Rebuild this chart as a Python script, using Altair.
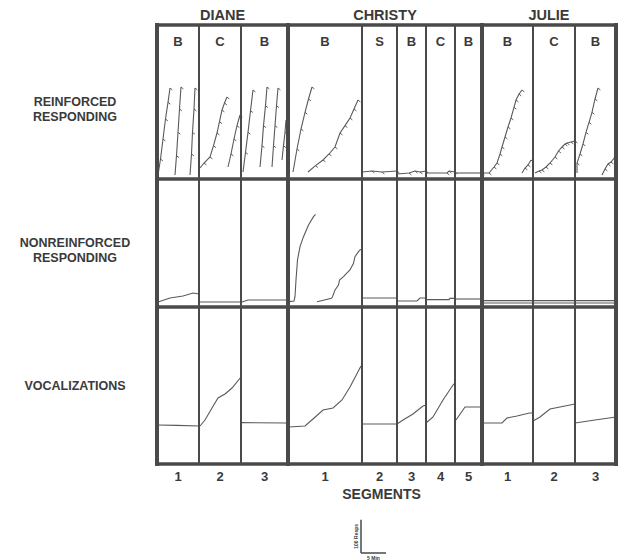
import altair as alt
import pandas as pd

# ------------------------------------------------------------------ data
SUBJECTS = ["DIANE", "CHRISTY", "JULIE"]
CONDITIONS = {
    "DIANE": ["B", "C", "B"],
    "CHRISTY": ["B", "S", "B", "C", "B"],
    "JULIE": ["B", "C", "B"],
}
SEGMENT_MINUTES = {
    "DIANE": [8.4, 8.4, 9.4],
    "CHRISTY": [14.8, 7.0, 5.8, 5.8, 5.4],
    "JULIE": [10.2, 8.4, 8.2],
}
ROW_LABELS = ["REINFORCED\nRESPONDING", "NONREINFORCED\nRESPONDING", "VOCALIZATIONS"]
ROW_RANGE = [462, 384, 471]          # count range of each record row
SCALE_RESPS = 100
SCALE_MINUTES = 5

# cumulative records: (subject, segment) -> list of strokes, each [(minute, count), ...]
REINFORCED = {
    ("DIANE", 1): [
        [(0.2, 12), (0.7, 60), (1.2, 120), (1.7, 180), (2.2, 230), (2.6, 273)],
        [(3.6, 12), (3.9, 70), (4.2, 140), (4.5, 210), (4.8, 276)],
        [(6.6, 12), (6.9, 75), (7.1, 140), (7.4, 210), (7.6, 273)],
    ],
    ("DIANE", 2): [
        [(0.2, 33), (1.0, 48), (2.2, 66), (2.9, 100), (3.6, 138), (4.1, 172), (4.6, 207), (5.1, 228), (5.6, 246)],
        [(5.8, 36), (6.4, 75), (7.0, 120), (7.6, 160), (8.2, 192)],
    ],
    ("DIANE", 3): [
        [(0.4, 21), (0.9, 80), (1.4, 140), (1.9, 205), (2.4, 267)],
        [(3.8, 36), (4.2, 100), (4.5, 160), (4.9, 220), (5.2, 276)],
        [(6.2, 36), (6.5, 100), (6.8, 160), (7.1, 220), (7.4, 273)],
        [(8.2, 57), (8.5, 100), (8.8, 140), (9.0, 177)],
    ],
    ("CHRISTY", 1): [
        [(1.0, 21), (1.8, 90), (2.6, 150), (3.4, 200), (4.1, 240), (4.8, 276)],
        [(4.0, 21), (5.5, 40), (7.0, 57), (8.2, 75), (9.4, 96), (10.4, 138), (11.4, 160), (12.4, 183), (13.2, 210), (14.0, 237)],
    ],
    ("CHRISTY", 2): [[(0.0, 21), (2.0, 24), (4.0, 21), (7.0, 24)]],
    ("CHRISTY", 3): [[(0.0, 15), (2.4, 18), (3.6, 24), (4.6, 21), (5.8, 24)]],
    ("CHRISTY", 4): [[(0.0, 18), (4.2, 18), (4.6, 24), (5.8, 21)]],
    ("CHRISTY", 5): [[(0.0, 18), (5.4, 18)]],
    ("JULIE", 1): [
        [(0.0, 18), (1.4, 18), (2.4, 36), (3.0, 48), (3.6, 75), (4.0, 96), (4.6, 126), (5.2, 156), (5.8, 183), (6.4, 215), (6.8, 237), (7.4, 255), (8.0, 267)],
        [(8.0, 18), (8.6, 33), (9.2, 42), (9.8, 57)],
    ],
    ("JULIE", 2): [
        [(0.4, 18), (1.2, 24), (1.8, 27), (2.6, 36), (3.4, 48), (4.4, 66), (5.1, 84), (5.8, 96), (6.4, 105), (6.8, 108), (7.6, 111), (8.4, 114)],
    ],
    ("JULIE", 3): [
        [(0.4, 18), (0.4, 48), (1.0, 75), (1.6, 105), (2.2, 140), (2.8, 170), (3.4, 200), (4.0, 240), (4.6, 273)],
        [(5.4, 12), (6.0, 30), (6.6, 45), (7.2, 51), (8.0, 66)],
    ],
}

NONREINFORCED = {
    ("DIANE", 1): [[(0.2, 15), (2.6, 27), (5.2, 33), (7.2, 42), (8.4, 39)]],
    ("DIANE", 2): [[(0.0, 15), (8.4, 15)]],
    ("DIANE", 3): [[(0.2, 15), (1.4, 21), (9.4, 21)]],
    ("CHRISTY", 1): [
        [(0.3, 16), (1.2, 18), (1.4, 31), (1.6, 81), (1.9, 141), (2.4, 181), (3.1, 211), (4.1, 246), (5.1, 271), (5.5, 278)],
        [(5.8, 16), (8.7, 26), (8.9, 31), (9.4, 51), (10.1, 66), (10.3, 81), (11.1, 91), (11.7, 101), (12.4, 111), (13.1, 131), (13.4, 151), (14.1, 166), (14.4, 171), (14.8, 174)],
    ],
    ("CHRISTY", 2): [[(0.0, 27), (7.0, 27)]],
    ("CHRISTY", 3): [[(0.0, 18), (4.0, 18), (4.6, 27), (5.8, 27)]],
    ("CHRISTY", 4): [[(0.0, 22), (4.6, 22), (4.8, 26), (5.8, 26)]],
    ("CHRISTY", 5): [[(0.0, 24), (5.4, 24)]],
    ("JULIE", 1): [[(0.0, 19), (10.2, 19)], [(0.0, 12), (10.2, 12)]],
    ("JULIE", 2): [[(0.0, 19), (8.4, 19)], [(0.0, 12), (8.4, 12)]],
    ("JULIE", 3): [[(0.0, 19), (8.2, 19)], [(0.0, 12), (8.2, 12)]],
}

VOCALIZATIONS = {
    ("DIANE", 1): [[(0.0, 117), (4.0, 116), (8.4, 114)]],
    ("DIANE", 2): [[(0.2, 114), (1.2, 132), (2.6, 168), (3.8, 198), (5.2, 210), (6.6, 228), (8.4, 261)]],
    ("DIANE", 3): [[(0.0, 124), (9.4, 123)]],
    ("CHRISTY", 1): [[(0.2, 111), (3.4, 114), (5.0, 135), (7.0, 162), (9.0, 168), (10.8, 192), (12.4, 231), (14.6, 294)]],
    ("CHRISTY", 2): [[(0.0, 120), (7.0, 120)]],
    ("CHRISTY", 3): [[(0.0, 120), (1.2, 132), (3.2, 150), (5.2, 174), (5.8, 177)]],
    ("CHRISTY", 4): [[(0.0, 123), (1.4, 141), (3.4, 192), (5.4, 237), (5.8, 243)]],
    ("CHRISTY", 5): [[(0.2, 132), (2.0, 171), (4.6, 171), (5.4, 171)]],
    ("JULIE", 1): [[(0.0, 123), (4.0, 123), (5.0, 138), (7.0, 144), (9.5, 153), (10.2, 153)]],
    ("JULIE", 2): [[(0.0, 129), (1.4, 141), (3.4, 165), (5.4, 171), (8.4, 180)]],
    ("JULIE", 3): [[(0.0, 123), (4.0, 132), (8.2, 141)]],
}

# ------------------------------------------------------------------ layout
FONT = "Liberation Sans"
INK = "#3a3a3a"
FRAME = "#4a4a4a"
PEN = "#5a5a5a"

segments = []
seg_start = {}
subj_span = {}
t = 0.0
for s in SUBJECTS:
    s0 = t
    for i, (d, c) in enumerate(zip(SEGMENT_MINUTES[s], CONDITIONS[s])):
        segments.append({"subject": s, "seg": i + 1, "start": t, "dur": d, "cond": c})
        seg_start[(s, i + 1)] = t
        t += d
    subj_span[s] = (s0, t)
TOTAL_MIN = t
TOTAL_Y = sum(ROW_RANGE)
row_base = [ROW_RANGE[2] + ROW_RANGE[1], ROW_RANGE[2], 0]

# curves
curve_rows = []
for r, rec in enumerate([REINFORCED, NONREINFORCED, VOCALIZATIONS]):
    for (s, g), strokes in rec.items():
        for k, stroke in enumerate(strokes):
            for j, (m, c) in enumerate(stroke):
                curve_rows.append({
                    "x": seg_start[(s, g)] + m,
                    "y": row_base[r] + c,
                    "sid": f"{r}-{s}-{g}-{k}",
                    "ord": j,
                    "pip": (r == 0 and j > 0),
                })
curves = pd.DataFrame(curve_rows)
pips = curves[curves["pip"]]

# frame
frame_rows = []
for yb in [0, ROW_RANGE[2], ROW_RANGE[2] + ROW_RANGE[1], TOTAL_Y]:
    frame_rows.append({"x": 0, "x2": TOTAL_MIN, "y": yb, "y2": yb, "w": 3.5})
frame_rows.append({"x": 0, "x2": 0, "y": 0, "y2": TOTAL_Y, "w": 4})
for s in SUBJECTS:
    for sg in segments:
        if sg["subject"] == s and sg["seg"] > 1:
            frame_rows.append({"x": sg["start"], "x2": sg["start"], "y": 0, "y2": TOTAL_Y, "w": 2})
    e = subj_span[s][1]
    frame_rows.append({"x": e, "x2": e, "y": 0, "y2": TOTAL_Y, "w": 4})
frame = pd.DataFrame(frame_rows)

# texts
names = pd.DataFrame([{"x": (a + b) / 2, "y": TOTAL_Y + 26, "t": s} for s, (a, b) in subj_span.items()])
conds = pd.DataFrame([{"x": sg["start"] + sg["dur"] / 2, "y": TOTAL_Y - 51, "t": sg["cond"]} for sg in segments])
segnums = pd.DataFrame([{"x": sg["start"] + sg["dur"] / 2, "y": -39, "t": str(sg["seg"])} for sg in segments])
seglabel = pd.DataFrame([{"x": TOTAL_MIN / 2 - 1, "y": -93, "t": "SEGMENTS"}])
rowlab = pd.DataFrame([{"x": -16.4, "y": row_base[i] + ROW_RANGE[i] / 2, "t": ROW_LABELS[i]} for i in range(3)])

SCALE_X, SCALE_Y = 40.8, -267
scalebar = pd.DataFrame([
    {"x": SCALE_X, "x2": SCALE_X, "y": SCALE_Y, "y2": SCALE_Y + SCALE_RESPS},
    {"x": SCALE_X, "x2": SCALE_X + SCALE_MINUTES, "y": SCALE_Y, "y2": SCALE_Y},
])
scaletxt_v = pd.DataFrame([{"x": SCALE_X - 1.0, "y": SCALE_Y + SCALE_RESPS / 2, "t": f"{SCALE_RESPS} Resps"}])
scaletxt_h = pd.DataFrame([{"x": SCALE_X + SCALE_MINUTES / 2, "y": SCALE_Y - 14, "t": f"{SCALE_MINUTES} Min"}])

xs = alt.Scale(domain=[0, TOTAL_MIN], nice=False, zero=False)
ys = alt.Scale(domain=[0, TOTAL_Y], nice=False, zero=False)


def X(f="x"):
    return alt.X(f"{f}:Q", scale=xs, axis=None)


def Y(f="y"):
    return alt.Y(f"{f}:Q", scale=ys, axis=None)


lines = alt.Chart(curves).mark_line(color=PEN, strokeWidth=1.1, interpolate="linear").encode(
    x=X(), y=Y(), detail="sid:N", order="ord:Q"
)
pipmarks = alt.Chart(pips).mark_point(
    shape="M0,0L1,0.8", size=22, filled=False, color=PEN, strokeWidth=1, opacity=1
).encode(x=X(), y=Y())

frames = alt.Chart(frame).mark_rule(color=FRAME, strokeCap="square").encode(
    x=X(), x2="x2:Q", y=Y(), y2="y2:Q", strokeWidth=alt.StrokeWidth("w:Q", scale=None)
)


def txt(df, size, **kw):
    return alt.Chart(df).mark_text(
        font=FONT, fontWeight="bold", fontSize=size, color=INK, baseline="middle", align="center", **kw
    ).encode(x=X(), y=Y(), text="t:N")


bar = alt.Chart(scalebar).mark_rule(color=FRAME, strokeWidth=1.5).encode(x=X(), x2="x2:Q", y=Y(), y2="y2:Q")

chart = alt.layer(
    lines,
    pipmarks,
    frames,
    txt(names, 14.5),
    txt(conds, 13),
    txt(segnums, 13),
    txt(seglabel, 14),
    txt(rowlab, 12.5, lineBreak="\n", lineHeight=14.5),
    bar,
    txt(scaletxt_v, 5, angle=270),
    txt(scaletxt_h, 5),
).properties(
    width=459,
    height=439,
    autosize=alt.AutoSizeParams(type="none"),
    padding={"left": 149, "top": 17, "right": 2, "bottom": 96},
    background="white",
).configure_view(stroke=None)

chart.save("out.html", embed_options={"renderer": "svg", "actions": False})
